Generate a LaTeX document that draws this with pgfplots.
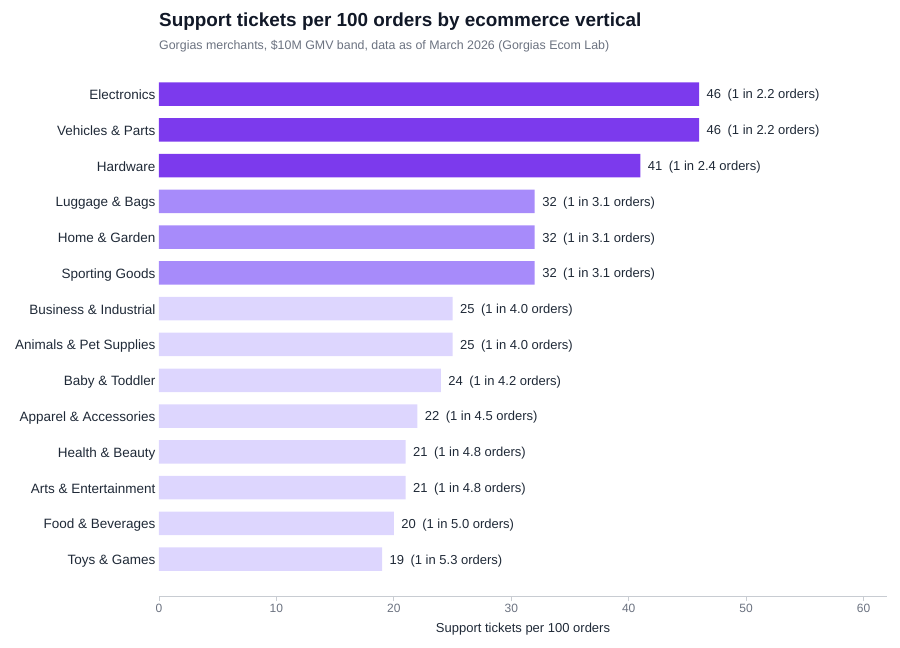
\documentclass[border=0pt]{standalone}
\usepackage{pgfplots}
\pgfplotsset{compat=1.18}
\usepackage{fontspec}
\setmainfont{Liberation Sans}

\definecolor{vdark}{HTML}{7C3AED}
\definecolor{vmid}{HTML}{A78BFA}
\definecolor{vlight}{HTML}{DDD6FE}
\definecolor{titlecol}{HTML}{111827}
\definecolor{subcol}{HTML}{6B7280}
\definecolor{labcol}{HTML}{1F2937}
\definecolor{axiscol}{HTML}{C8CCD2}

\begin{document}
\begin{tikzpicture}
% title and subtitle
\node[anchor=base west, inner sep=0, text=titlecol]
  at (159pt,621pt) {\bfseries\fontsize{18.9}{21}\selectfont Support tickets per 100 orders by ecommerce vertical};
\node[anchor=base west, inner sep=0, text=subcol]
  at (159pt,598.5pt) {\fontsize{12.4}{14}\selectfont Gorgias merchants, \$10M GMV band, data as of March 2026 (Gorgias Ecom Lab)};

\begin{axis}[
	at = {(159pt,52pt)},
	anchor = south west,
	scale only axis,
	width = 728pt,
	height = 527pt,
	xbar,
	bar width = 23.5pt,
	xmin = 0, xmax = 62,
	ymin = -1.03, ymax = 13.7,
	xtick = {0,10,...,60},
	ytick = {0,...,13},
	yticklabels = {Toys \& Games, Food \& Beverages, Arts \& Entertainment, Health \& Beauty,
		Apparel \& Accessories, Baby \& Toddler, Animals \& Pet Supplies, Business \& Industrial,
		Sporting Goods, Home \& Garden, Luggage \& Bags, Hardware, Vehicles \& Parts, Electronics},
	axis x line = bottom,
	axis y line = left,
	x axis line style = {-, draw=axiscol, line width=0.9pt},
	y axis line style = {draw=none},
	ytick style = {draw=none},
	xtick style = {draw=axiscol, line width=0.9pt},
	tick align = outside,
	major tick length = 5pt,
	xticklabel style = {text=subcol, font=\fontsize{12}{14}\selectfont,
		/pgf/number format/assume math mode=true},
	yticklabel style = {text=labcol, font=\fontsize{13.5}{15}\selectfont, xshift=5pt, yshift=-2pt,
		text height=10pt, text depth=3pt},
	xlabel = {Support tickets per 100 orders},
	xlabel style = {text=labcol, font=\fontsize{13}{15}\selectfont, yshift=-3pt},
	point meta = explicit symbolic,
	nodes near coords,
	nodes near coords style = {anchor=west, xshift=4pt, yshift=-1.5pt, text=labcol, font=\fontsize{13}{15}\selectfont},
	clip = false,
]
\addplot[bar shift=0pt, draw=none, fill=vdark] coordinates {
	(46,13) [46\enspace(1 in 2.2 orders)]
	(46,12) [46\enspace(1 in 2.2 orders)]
	(41,11) [41\enspace(1 in 2.4 orders)]
};
\addplot[bar shift=0pt, draw=none, fill=vmid] coordinates {
	(32,10) [32\enspace(1 in 3.1 orders)]
	(32,9) [32\enspace(1 in 3.1 orders)]
	(32,8) [32\enspace(1 in 3.1 orders)]
};
\addplot[bar shift=0pt, draw=none, fill=vlight] coordinates {
	(25,7) [25\enspace(1 in 4.0 orders)]
	(25,6) [25\enspace(1 in 4.0 orders)]
	(24,5) [24\enspace(1 in 4.2 orders)]
	(22,4) [22\enspace(1 in 4.5 orders)]
	(21,3) [21\enspace(1 in 4.8 orders)]
	(21,2) [21\enspace(1 in 4.8 orders)]
	(20,1) [20\enspace(1 in 5.0 orders)]
	(19,0) [19\enspace(1 in 5.3 orders)]
};
\end{axis}
\pgfresetboundingbox
\path (0,0) rectangle (900pt,648pt);
\end{tikzpicture}
\end{document}
